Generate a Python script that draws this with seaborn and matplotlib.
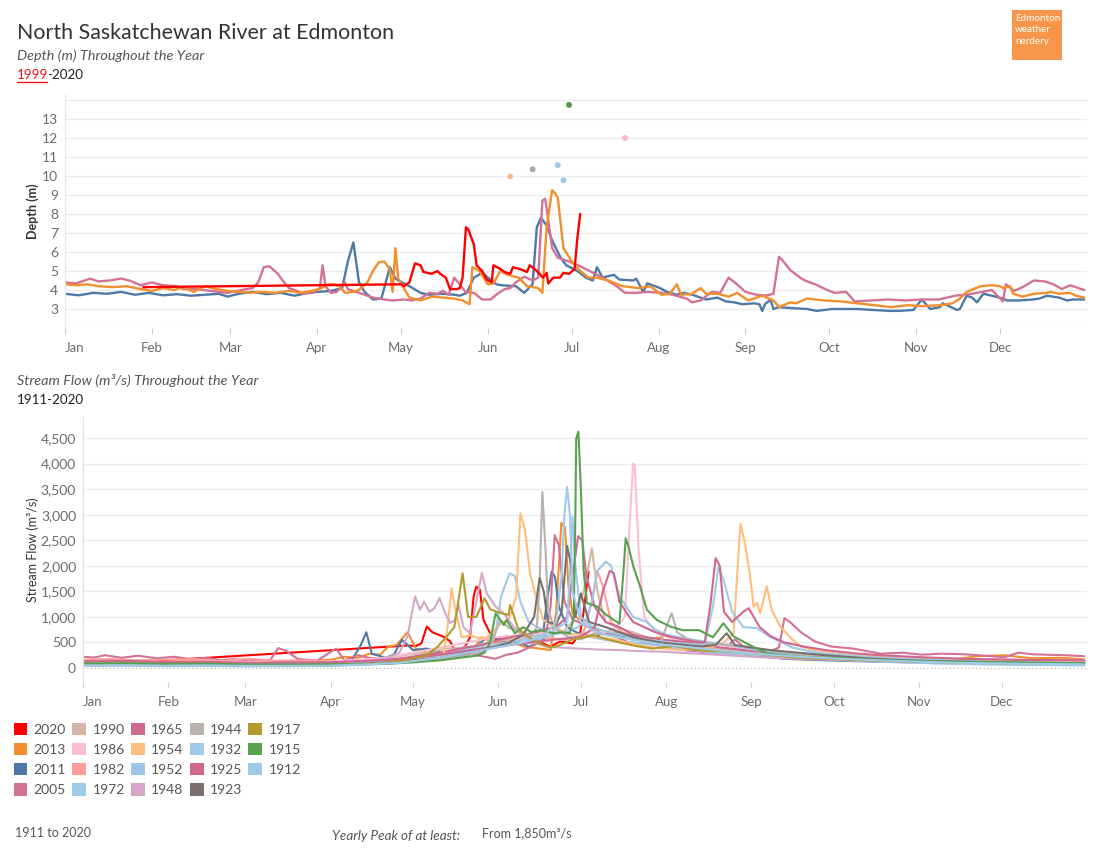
import pandas as pd
import matplotlib.pyplot as plt
from matplotlib.patches import Patch, Rectangle
from matplotlib.lines import Line2D
import seaborn as sns

# depth (m) by day of year (0 = Jan 1)
d2020 = [(28, 4.15), (120, 4.3), (121, 4.2), (123, 4.4), (125, 5.4), (127, 5.3), (128, 4.95), (131, 4.85),
         (133, 5.0), (134, 4.85), (136, 4.65), (137.5, 4.05), (140, 4.05), (141, 4.1), (142, 4.65), (143.2, 7.3),
         (144, 7.2), (146, 6.4), (147, 5.3), (149, 5.0), (150.6, 4.55), (152.4, 4.4), (153, 5.3), (155, 5.15),
         (157, 4.95), (159, 4.85), (160, 5.2), (162.5, 5.1), (165, 4.95), (166, 5.3), (168.5, 5.0), (170.7, 4.65),
         (172, 4.9), (172.6, 4.35), (174.4, 4.65), (176.8, 4.65), (178, 4.9), (180, 4.85), (182, 5.1),
         (183, 6.75), (184, 8.0)]
d2013 = [(0, 4.3), (4, 4.25), (8, 4.3), (12, 4.2), (17, 4.15), (22, 4.2), (27, 4.05), (31, 3.95), (35, 4.1),
         (39, 4.0), (42, 4.15), (46, 3.9), (50, 4.2), (54, 4.05), (58, 3.95), (62, 3.9), (66, 3.85), (70, 3.9),
         (75, 3.85), (80, 3.95), (84, 3.85), (88, 3.95), (91, 4.05), (94, 4.3), (96, 4.3), (98, 4.2), (100, 3.85),
         (103, 3.9), (105, 4.0), (108, 4.4), (110, 5.0), (112, 5.45), (114, 5.5), (116, 5.1), (117, 3.9),
         (118, 6.2), (119, 4.6), (121, 4.1), (123, 3.6), (127, 3.45), (131, 3.65), (135, 3.6), (139, 3.55),
         (142, 3.45), (144.5, 3.25), (145.5, 5.2), (148, 5.0), (151, 4.3), (153, 4.35), (155.5, 5.0), (158, 4.8),
         (162, 4.65), (165, 4.2), (169, 4.1), (170.5, 3.85), (172, 7.3), (174, 9.25), (175, 9.1), (176, 8.85),
         (178, 6.2), (181, 5.5), (184, 5.0), (187, 4.65), (190, 4.65), (194, 4.5), (199, 4.2), (205, 4.1),
         (209, 4.2), (213, 3.75), (216, 3.8), (218.5, 4.3), (220, 3.75), (224, 3.8), (227, 4.1), (229, 3.8),
         (233, 3.8), (237, 3.65), (240, 3.85), (244, 3.45), (249, 3.7), (253, 3.45), (255, 3.1), (259, 3.35),
         (261, 3.3), (265, 3.55), (271, 3.45), (277, 3.4), (283, 3.3), (289, 3.2), (295, 3.1), (301, 3.2),
         (306, 3.15), (312.5, 3.2), (317, 3.3), (319.6, 3.55), (322, 3.9), (327, 4.2), (331, 4.25), (334, 4.2),
         (335, 4.1), (337.5, 4.2), (338.6, 3.8), (342, 3.65), (346, 3.8), (350.7, 3.85), (352, 3.9), (355, 3.8),
         (359, 3.85), (361, 3.7), (364, 3.6)]
d2011 = [(0, 3.8), (5, 3.72), (10, 3.85), (15, 3.8), (20, 3.9), (25, 3.75), (30, 3.85), (35, 3.72), (40, 3.78),
         (45, 3.7), (50, 3.75), (55, 3.8), (58, 3.65), (62, 3.8), (67, 3.9), (72, 3.78), (77, 3.85), (82, 3.7),
         (86, 3.82), (90, 3.9), (95, 3.95), (99, 4.1), (101, 5.5), (103, 6.5), (105, 4.4), (107, 3.9), (110, 3.5),
         (113, 3.55), (116, 5.2), (118, 4.6), (121, 4.35), (123, 4.2), (127, 3.85), (130, 3.75), (135, 3.8),
         (139, 3.75), (141, 3.7), (143.5, 3.85), (146, 4.65), (149, 4.9), (151, 4.65), (154, 4.3), (156, 4.25),
         (161, 4.2), (164, 3.85), (167, 4.3), (168.5, 7.3), (170, 7.8), (172, 7.4), (174, 6.6), (177, 5.7),
         (179, 5.3), (183, 5.0), (186, 4.65), (188.5, 4.5), (190, 5.2), (192, 4.65), (196, 4.8), (198, 4.55),
         (203, 4.5), (204, 4.6), (206.5, 3.9), (208, 4.35), (212.5, 4.1), (215, 3.9), (218.5, 3.75), (221, 3.85),
         (224, 3.75), (229, 3.5), (233, 3.6), (236, 3.4), (239, 3.35), (242, 3.25), (246, 3.3), (248, 3.25),
         (249, 2.9), (250, 3.25), (252, 3.5), (253, 3.0), (255, 3.1), (259, 3.05), (265, 3.0), (268.5, 2.9),
         (274, 3.0), (283, 3.0), (288.5, 2.95), (294.6, 2.9), (298, 2.9), (303, 2.95), (306, 3.5), (309, 3.0),
         (312.5, 3.1), (313.5, 3.3), (318.6, 2.95), (319.6, 3.0), (322, 3.7), (324, 3.6), (325.7, 3.35),
         (328, 3.8), (331, 3.7), (335, 3.55), (336.4, 3.45), (341, 3.45), (345.7, 3.5), (348, 3.55),
         (350.7, 3.7), (355, 3.6), (357.9, 3.45), (360, 3.5), (364, 3.5)]
d2005 = [(0, 4.4), (4, 4.35), (9, 4.6), (12, 4.45), (16, 4.5), (20, 4.6), (23, 4.5), (27, 4.25), (31, 4.4),
         (35, 4.25), (40, 4.2), (42, 4.05), (47, 4.05), (52, 3.95), (58, 3.85), (63, 4.0), (67, 4.1), (69, 4.4),
         (71, 5.2), (73, 5.25), (76, 4.85), (78, 4.45), (80, 4.1), (82, 4.0), (85, 3.8), (89, 3.9), (91, 4.1),
         (92, 5.3), (93, 4.2), (95, 3.85), (97, 3.9), (100, 4.4), (101, 4.05), (104, 3.9), (106, 3.8), (110, 3.6),
         (114, 3.5), (117, 3.45), (121, 3.5), (124, 3.45), (127, 3.55), (130, 3.85), (133, 3.8), (135, 3.95),
         (137, 3.75), (139, 4.65), (141, 4.3), (143, 3.9), (146, 3.85), (149, 3.5), (152, 3.5), (154, 3.75),
         (157, 4.05), (159, 4.1), (161, 4.4), (164, 4.7), (167, 4.5), (169, 4.65), (170.5, 8.7), (171.5, 8.8),
         (174, 6.2), (176, 5.7), (180, 5.5), (184, 5.25), (188, 4.95), (192, 4.65), (197, 4.2), (200, 3.85),
         (204, 3.85), (208, 3.9), (213, 3.85), (217, 3.75), (222, 3.55), (224, 3.35), (227, 3.45), (231, 3.9),
         (234, 3.85), (237, 4.65), (240, 4.3), (243, 3.9), (247, 3.75), (250, 3.7), (253, 3.8), (255, 5.75),
         (256, 5.6), (259, 5.05), (263, 4.6), (265, 4.45), (268, 4.3), (270, 4.15), (273, 3.95), (275, 3.85),
         (279, 3.9), (282, 3.4), (288, 3.45), (294, 3.5), (300, 3.45), (306, 3.5), (312, 3.5), (318, 3.7),
         (324, 3.8), (331, 4.0), (335, 3.4), (336, 4.3), (339, 3.95), (342, 4.15), (346, 4.5), (350, 4.45),
         (353, 4.3), (356, 4.05), (359, 4.25), (362, 4.1), (364, 4.0)]

# historic flood peak depths
peak_years = ["1954", "1944", "1912", "1932", "1915", "1986"]
peak_days = [159, 167, 176, 178, 180, 200]
peak_depths = [9.98, 10.35, 10.57, 9.77, 13.74, 12.0]
peak_colors = ["#F9B98A", "#A9A5A3", "#9EC5E6", "#9EC5E6", "#4E9A47", "#F7B6CB"]

# stream flow (m3/s) by day of year
q2020 = [(27, 140), (118, 440), (121, 430), (123, 480), (125, 810), (127, 700), (129.8, 640), (131.5, 600),
         (133.5, 520), (135, 355), (138, 330), (140.7, 600), (142, 1400), (143, 1590), (144.3, 1530),
         (145.6, 940), (148, 680), (150.4, 550), (154, 620), (159, 480), (164, 550), (170, 420), (173.5, 520),
         (178, 480), (180.7, 680), (182, 1100), (183.8, 1885)]
q2013 = [(0, 150), (8, 130), (15, 140), (22, 115), (30, 120), (38, 140), (45, 130), (52, 105), (60, 110),
         (68, 130), (75, 120), (82, 140), (90, 160), (95, 220), (100, 200), (104, 280), (108, 260), (111, 420),
         (114, 450), (118, 700), (121, 380), (125, 300), (130, 280), (135, 320), (140, 250), (145, 600),
         (150, 480), (155, 560), (160, 420), (166, 380), (170, 350), (172, 1100), (173.9, 2840), (175.2, 2760),
         (176.5, 1600), (178, 1070), (183, 810), (190, 700), (197, 680), (205, 550), (210, 600), (213, 420),
         (220, 400), (226, 450), (230, 350), (240, 300), (248, 330), (255, 220), (262, 260), (270, 240),
         (280, 200), (290, 160), (300, 170), (310, 150), (318, 180), (325, 230), (335, 250), (345, 190),
         (355, 200), (364, 170)]
q2011 = [(0, 80), (10, 90), (20, 70), (30, 85), (40, 75), (50, 60), (60, 70), (70, 85), (80, 90), (90, 110),
         (95, 120), (98, 180), (101, 450), (103, 700), (105, 280), (110, 200), (113, 260), (116, 550), (120, 350),
         (125, 380), (130, 300), (135, 330), (140, 280), (146, 560), (149, 620), (155, 460), (158, 520),
         (162, 420), (167, 520), (168.6, 1300), (170.4, 1885), (171.6, 1780), (173, 1200), (176, 800),
         (180, 680), (186, 600), (190, 720), (196, 620), (200, 650), (204, 520), (212, 420), (220, 380),
         (230, 300), (240, 260), (248, 220), (255, 180), (270, 150), (290, 120), (310, 110), (322, 170),
         (330, 150), (345, 130), (364, 120)]
q2005 = [(0, 220), (4, 205), (8, 250), (14, 200), (20, 240), (27, 190), (33, 220), (40, 170), (45, 200),
         (50, 150), (55, 175), (60, 130), (68, 150), (71, 390), (74, 330), (78, 180), (85, 140), (92, 380),
         (95, 150), (100, 250), (104, 200), (110, 170), (115, 140), (120, 150), (125, 210), (130, 190), (135, 260),
         (139, 430), (143, 250), (150, 180), (154, 260), (158, 300), (163, 420), (168, 560), (170, 1200),
         (171.5, 2600), (173, 2400), (175, 1300), (178, 950), (184, 800), (188, 700), (192, 650), (196, 560),
         (200, 460), (205, 500), (210, 420), (215, 380), (220, 340), (228, 300), (233, 350), (237, 560),
         (241, 380), (246, 360), (250, 330), (253, 400), (255, 975), (257, 900), (261, 700), (266, 520),
         (272, 420), (280, 380), (290, 280), (298, 300), (305, 260), (312, 280), (320, 270), (328, 240),
         (335, 210), (340, 300), (345, 270), (350, 260), (357, 250), (364, 230)]
q1990 = [(0, 120), (15, 130), (30, 110), (45, 115), (60, 100), (75, 110), (90, 120), (100, 150), (110, 180),
         (118, 260), (125, 300), (132, 380), (140, 400), (145, 470), (150, 520), (155, 560), (160, 600),
         (165, 640), (170, 700), (174, 680), (178, 900), (182, 1500), (185, 2340), (187, 1500), (190, 900),
         (195, 780), (200, 700), (205, 600), (210, 550), (218, 480), (225, 420), (232, 380), (240, 350),
         (250, 300), (260, 250), (275, 210), (290, 180), (305, 170), (320, 150), (340, 140), (364, 130)]
q1986 = [(0, 130), (15, 140), (30, 120), (45, 130), (60, 110), (75, 140), (90, 130), (100, 160), (110, 200),
         (118, 280), (125, 350), (132, 420), (140, 500), (145, 560), (150, 600), (155, 620), (160, 650),
         (165, 690), (170, 700), (175, 680), (180, 650), (185, 720), (190, 700), (194, 800), (197, 1000),
         (198.6, 2700), (200, 4000), (200.6, 3950), (202, 2300), (204, 1000), (207, 780), (210, 650), (215, 560),
         (220, 500), (226, 470), (232, 450), (238, 400), (245, 350), (252, 320), (260, 280), (275, 240),
         (290, 200), (305, 190), (320, 180), (340, 160), (364, 150)]
q1982 = [(0, 160), (10, 175), (20, 150), (30, 165), (40, 170), (50, 140), (60, 180), (70, 140), (80, 150),
         (90, 120), (100, 130), (110, 150), (118, 200), (125, 250), (132, 300), (140, 350), (147, 420),
         (155, 500), (160, 560), (165, 600), (170, 580), (175, 550), (180, 620), (182, 700), (185, 1300),
         (187, 1900), (189, 1600), (192, 900), (196, 700), (200, 600), (207, 520), (215, 450), (222, 400),
         (230, 350), (237, 320), (245, 280), (252, 240), (260, 200), (270, 180), (280, 160), (295, 140),
         (310, 120), (325, 115), (340, 110), (352, 130), (364, 120)]
q1972 = [(0, 50), (15, 55), (30, 45), (45, 50), (60, 40), (75, 45), (90, 50), (100, 70), (110, 90), (118, 150),
         (125, 200), (130, 260), (135, 300), (140, 380), (145, 450), (148, 520), (150, 700), (152, 1400),
         (155, 1850), (157, 1800), (159, 1300), (162, 900), (166, 780), (170, 700), (175, 680), (180, 650),
         (185, 600), (190, 550), (195, 520), (200, 500), (207, 450), (215, 400), (222, 350), (230, 300),
         (238, 270), (245, 250), (252, 230), (260, 200), (275, 160), (290, 120), (305, 100), (320, 80),
         (340, 70), (364, 60)]
q1965 = [(0, 100), (15, 110), (30, 90), (45, 95), (60, 80), (75, 90), (90, 100), (105, 140), (115, 180),
         (122, 240), (130, 300), (137, 380), (145, 450), (150, 530), (155, 600), (160, 650), (165, 700),
         (168, 760), (172, 800), (176, 1000), (178, 1800), (180, 2580), (181.5, 2500), (183, 1800), (186, 1200),
         (190, 900), (195, 800), (200, 650), (205, 600), (210, 560), (215, 530), (220, 500), (226, 450),
         (232, 400), (240, 350), (250, 300), (265, 250), (280, 210), (290, 180), (305, 165), (320, 150),
         (340, 130), (364, 120)]
q1954 = [(0, 60), (15, 65), (30, 55), (45, 60), (60, 50), (75, 55), (90, 60), (100, 80), (108, 110), (115, 130),
         (120, 150), (126, 190), (131, 220), (132.5, 800), (134, 1560), (135.5, 1100), (137.7, 600), (141, 640),
         (144, 580), (147, 600), (151.6, 850), (155, 980), (157.5, 1400), (159, 3030), (160.7, 2700),
         (162.5, 1850), (165, 1330), (167.4, 940), (171, 810), (176, 680), (183, 620), (188, 600), (193, 560),
         (199, 480), (205, 420), (211, 380), (217, 350), (223, 380), (229, 420), (233, 500), (236.5, 680),
         (239, 2820), (240.8, 2400), (242.5, 1800), (243.8, 1200), (245, 1270), (246.2, 1070), (248.6, 1600),
         (250.4, 1130), (253.5, 810), (258, 550), (261, 420), (265, 360), (270, 320), (278, 280), (285, 250),
         (292, 210), (300, 180), (310, 165), (320, 150), (330, 140), (340, 130), (352, 125), (364, 120)]
q1952 = [(0, 40), (15, 45), (30, 35), (45, 40), (60, 30), (75, 35), (90, 40), (105, 70), (115, 100), (122, 150),
         (130, 200), (137, 280), (145, 350), (150, 400), (155, 450), (160, 500), (165, 550), (170, 640),
         (175, 700), (180, 800), (183, 950), (185, 1300), (187, 1900), (190, 2080), (192, 2000), (195, 1400),
         (200, 1000), (205, 900), (208, 750), (212, 650), (217, 600), (222, 550), (228, 500), (235, 450),
         (240, 400), (245, 350), (252, 300), (260, 250), (270, 200), (280, 150), (295, 120), (310, 90),
         (330, 70), (364, 50)]
q1948 = [(0, 100), (15, 110), (30, 95), (45, 100), (60, 90), (75, 100), (90, 100), (100, 130), (110, 180),
         (115, 300), (118, 620), (120.7, 1400), (122.5, 1140), (124, 1300), (125.9, 1100), (127.8, 1170),
         (129.6, 1370), (131.6, 1080), (133.5, 880), (135.3, 940), (136.5, 1240), (138.3, 800), (140.7, 680),
         (143, 1300), (145, 1860), (146.8, 1460), (150, 1200), (153, 1070), (156.5, 810), (160, 620),
         (164, 500), (168, 420), (174, 400), (180, 380), (188, 360), (195, 350), (202, 330), (210, 320),
         (220, 290), (230, 260), (240, 230), (250, 200), (265, 170), (280, 150), (300, 130), (320, 120),
         (340, 110), (364, 100)]
q1944 = [(0, 60), (15, 70), (30, 55), (45, 60), (60, 50), (75, 55), (90, 55), (100, 70), (110, 90), (120, 130),
         (130, 180), (138, 240), (145, 300), (148, 420), (151.7, 940), (155, 780), (160, 700), (163, 620),
         (165, 800), (166, 1700), (167, 3445), (168.2, 2260), (169, 1200), (171, 800), (176, 620), (181, 560),
         (186, 680), (190, 650), (195, 600), (200, 560), (205, 540), (210, 520), (214, 1070), (216, 700),
         (220, 560), (225, 500), (232, 460), (240, 420), (248, 360), (255, 300), (262, 260), (270, 220),
         (285, 180), (300, 150), (315, 135), (330, 120), (345, 100), (364, 90)]
q1932 = [(0, 80), (15, 85), (30, 70), (45, 75), (60, 60), (75, 65), (90, 70), (105, 110), (115, 140),
         (122, 200), (130, 250), (137, 330), (145, 400), (152, 480), (160, 550), (165, 620), (170, 700),
         (176, 900), (177, 1800), (178, 2960), (179, 2000), (181, 1000), (184, 850), (188, 750), (193, 680),
         (198, 620), (204, 560), (210, 520), (215, 490), (220, 470), (226, 450), (229, 1200), (231, 1980),
         (233, 1700), (236, 1100), (240, 800), (245, 780), (250, 600), (254, 500), (258, 400), (264, 330),
         (270, 280), (280, 240), (290, 200), (305, 170), (320, 140), (340, 120), (364, 100)]
q1925 = [(0, 130), (15, 140), (30, 115), (45, 120), (60, 100), (75, 110), (90, 110), (103, 140), (115, 170),
         (122, 210), (130, 260), (137, 320), (145, 380), (152, 430), (160, 480), (166, 520), (172, 560),
         (176, 580), (180, 600), (183, 680), (186, 800), (189, 1500), (191.5, 1900), (193, 1850), (195, 1300),
         (198, 1050), (200, 900), (204, 800), (208, 700), (213, 620), (218, 560), (222, 520), (226, 500),
         (228, 1200), (230, 2150), (231.5, 2000), (233, 1100), (236, 900), (240, 1100), (242, 1170), (246, 800),
         (250, 620), (255, 500), (262, 420), (270, 350), (280, 290), (290, 250), (305, 210), (320, 180),
         (340, 160), (364, 150)]
q1923 = [(0, 70), (15, 75), (30, 60), (45, 65), (60, 55), (75, 60), (90, 60), (103, 90), (115, 120),
         (122, 160), (130, 200), (137, 270), (145, 350), (150, 420), (155, 500), (160, 650), (164, 1000),
         (166, 1760), (167.5, 1500), (169, 900), (172, 850), (174, 1100), (176, 2390), (177.5, 2000), (179, 1000),
         (181, 1460), (184, 900), (187, 850), (190, 800), (195, 700), (200, 600), (205, 550), (210, 500),
         (217, 460), (225, 420), (230, 450), (234, 680), (237, 450), (243, 400), (250, 350), (260, 300),
         (270, 250), (285, 190), (300, 150), (315, 130), (330, 110), (345, 100), (364, 90)]
q1917 = [(0, 70), (15, 75), (30, 60), (45, 65), (60, 50), (75, 55), (90, 55), (100, 75), (110, 100),
         (118, 160), (125, 250), (129, 420), (132, 600), (135, 800), (138, 1854), (140, 1000), (143, 1000),
         (146, 1365), (148, 1150), (152, 1070), (154.7, 1040), (155.3, 1235), (158, 800), (160, 680), (165, 500),
         (170, 400), (173, 440), (178, 560), (182, 600), (185.6, 640), (190, 570), (195, 500), (201, 430),
         (207, 380), (215, 430), (222, 360), (229, 330), (235, 320), (240, 300), (250, 250), (260, 200),
         (275, 170), (290, 140), (305, 120), (320, 100), (340, 90), (364, 80)]
q1915 = [(0, 90), (15, 95), (30, 80), (45, 85), (60, 70), (75, 70), (90, 75), (100, 75), (110, 80), (120, 110),
         (130, 150), (137, 200), (143, 240), (146, 300), (148, 500), (150, 1070), (153, 840), (154, 940),
         (157, 680), (160, 800), (163, 700), (166, 740), (171, 680), (174, 700), (177, 680), (178.4, 1000),
         (179, 3000), (179.3, 4490), (180.1, 4625), (181, 3500), (182, 1900), (183.2, 1270), (187, 1200),
         (190, 1050), (193, 940), (195, 870), (196.5, 1900), (197.3, 2540), (198.3, 2380), (200.1, 1980),
         (202.5, 1600), (205, 1140), (208.6, 940), (213.5, 810), (218, 740), (224, 740), (229, 600),
         (232.8, 875), (236.5, 620), (241.3, 480), (245, 380), (248.6, 290), (255, 250), (260, 220), (270, 200),
         (280, 180), (295, 150), (310, 130), (325, 120), (340, 110), (364, 90)]
q1912 = [(0, 50), (15, 55), (30, 45), (45, 50), (60, 40), (75, 42), (90, 45), (105, 75), (115, 100),
         (122, 150), (130, 200), (137, 270), (145, 350), (152, 420), (160, 500), (165, 580), (168, 650),
         (172, 900), (174, 1800), (175, 3000), (176, 3540), (177, 3000), (178, 1500), (181, 900), (185, 750),
         (190, 650), (195, 600), (200, 550), (206, 500), (212, 450), (218, 420), (225, 380), (232, 340),
         (240, 300), (250, 260), (260, 220), (275, 180), (290, 150), (305, 120), (320, 100), (340, 85), (364, 70)]

years = ["2020", "2013", "2011", "2005", "1990", "1986", "1982", "1972", "1965", "1954",
         "1952", "1948", "1944", "1932", "1925", "1923", "1917", "1915", "1912"]
year_colors = ["#FF0000", "#F28E2B", "#4E79A7", "#D37295", "#D7B5A6", "#FABFD2", "#FF9D9A", "#A0CBE8",
               "#CF6A8F", "#FFBE7D", "#9DC6E6", "#D4A6C8", "#BAB0AC", "#A0CBE8", "#D0678D", "#79706E",
               "#B6992D", "#59A14F", "#A0CBE8"]
flows = [q2020, q2013, q2011, q2005, q1990, q1986, q1982, q1972, q1965, q1954,
         q1952, q1948, q1944, q1932, q1925, q1923, q1917, q1915, q1912]

months = ["Jan", "Feb", "Mar", "Apr", "May", "Jun", "Jul", "Aug", "Sep", "Oct", "Nov", "Dec"]
month_start = [0, 31, 59, 90, 120, 151, 181, 212, 243, 273, 304, 334]

palette = dict(zip(years, year_colors))

depth_df = pd.DataFrame(
    [(y, d, v) for y, pts in zip(["2011", "2005", "2013", "2020"], [d2011, d2005, d2013, d2020]) for d, v in pts],
    columns=["year", "day", "depth"])
flow_df = pd.DataFrame([(y, d, v) for y, pts in zip(years, flows) for d, v in pts],
                       columns=["year", "day", "flow"])
peak_df = pd.DataFrame({"year": peak_years, "day": peak_days, "depth": peak_depths})

sns.set_theme(style="white")
plt.rcParams["font.family"] = ["Lato", "DejaVu Sans"]

W, H = 1097, 859
fig = plt.figure(figsize=(W / 100, H / 100), dpi=100)
grey_txt = "#6b6b6b"


def style_axis(ax):
    ax.set_xlim(0, 365)
    ax.set_xticks(month_start)
    ax.set_xticklabels(months)
    ax.get_xticklabels()[0].set_horizontalalignment("left")
    ax.tick_params(axis="x", length=4, width=0.8, color="#d0d0d0", labelcolor=grey_txt, labelsize=9.5, pad=6,
                   bottom=True)
    ax.tick_params(axis="y", length=0, labelcolor=grey_txt, labelsize=10, pad=5)
    ax.grid(axis="y", color="#ececec", linewidth=0.9)
    ax.grid(axis="x", visible=False)
    for s in ["top", "right", "bottom"]:
        ax.spines[s].set_visible(False)
    ax.spines["left"].set_color("#e4e4e4")
    ax.spines["left"].set_linewidth(0.9)
    ax.set_xlabel("")


# ---- depth panel
ax1 = fig.add_axes([65 / W, 1 - 328 / H, (1087 - 65) / W, (328 - 95) / H])
sns.lineplot(data=depth_df, x="day", y="depth", hue="year", palette=palette,
             hue_order=["2011", "2005", "2013", "2020"], estimator=None, sort=False,
             linewidth=1.7, legend=False, ax=ax1)
sns.scatterplot(data=peak_df, x="day", y="depth", hue="year", palette=dict(zip(peak_years, peak_colors)),
                s=18, linewidth=0, legend=False, ax=ax1)
style_axis(ax1)
ax1.set_ylim(2, 14.26)
ax1.set_yticks(range(2, 15))
ax1.set_yticklabels([""] + [str(v) for v in range(3, 14)] + [""])
ax1.set_ylabel("Depth (m)", fontsize=9, fontweight="bold", color="#333333", labelpad=2)

# ---- stream flow panel
ax2 = fig.add_axes([83 / W, 1 - 682 / H, (1087 - 83) / W, (682 - 417) / H])
sns.lineplot(data=flow_df, x="day", y="flow", hue="year", palette=palette, hue_order=years,
             estimator=None, sort=False, linewidth=1.5, legend=False, ax=ax2)
style_axis(ax2)
ax2.set_ylim(-274, 4911)
ax2.set_yticks(range(0, 5000, 500))
ax2.set_yticklabels([f"{v:,}" for v in range(0, 5000, 500)])
ax2.get_ygridlines()[0].set_visible(False)
ax2.axhline(0, color="#b8b8b8", linestyle=(0, (1, 2)), linewidth=0.9, zorder=0)
ax2.set_ylabel("Stream Flow (m³/s)", fontsize=9, color="#333333", labelpad=1)

# ---- titles
fig.text(17 / W, 1 - 33 / H, "North Saskatchewan River at Edmonton", fontsize=15.4, color="#333333",
         va="center")
fig.text(17 / W, 1 - 56 / H, "Depth (m) Throughout the Year", fontsize=10.4, style="italic", color="#555555",
         va="center")
t_red = fig.text(17 / W, 1 - 75 / H, "1999", fontsize=9.6, color="#E8141B", va="center")
fig.canvas.draw()
bb = t_red.get_window_extent()
fig.text((bb.x1 - 1) / W, 1 - 75 / H, "-2020", fontsize=9.6, color="#222222", va="center")
fig.add_artist(Line2D([bb.x0 / W, (bb.x1 - 1) / W], [(bb.y0 - 1) / H] * 2, color="#E8141B", linewidth=1.0))

fig.text(17 / W, 1 - 381 / H, "Stream Flow (m³/s) Throughout the Year", fontsize=10.4, style="italic",
         color="#555555", va="center")
fig.text(17 / W, 1 - 400 / H, "1911-2020", fontsize=9.6, color="#222222", va="center")

# logo box
fig.add_artist(Rectangle((1012 / W, 1 - 60 / H), 50 / W, 50 / H, transform=fig.transFigure,
                         facecolor="#F7964A", edgecolor="none"))
fig.text(1015 / W, 1 - 14 / H, "Edmonton\nweather\nnerdery", fontsize=7.1, color="white", va="top",
         linespacing=1.35)

# legend
handles = [Patch(facecolor=c, edgecolor="none") for c in year_colors]
fig.legend(handles, years, loc="upper left", bbox_to_anchor=(8 / W, 1 - 717 / H), ncol=5, frameon=False,
           fontsize=10, handlelength=1.0, handleheight=1.0, handletextpad=0.45, columnspacing=0.45,
           labelspacing=0.52, labelcolor="#555555", borderaxespad=0)

# footer
fig.text(15 / W, 1 - 833 / H, "1911 to 2020", fontsize=9, color="#555555", va="center")
fig.text(332 / W, 1 - 836 / H, "Yearly Peak of at least:", fontsize=9.7, style="italic", color="#555555",
         va="center")
fig.text(482 / W, 1 - 833 / H, "From 1,850m³/s", fontsize=9, color="#555555", va="center")

fig.savefig("out.png", dpi=100)
